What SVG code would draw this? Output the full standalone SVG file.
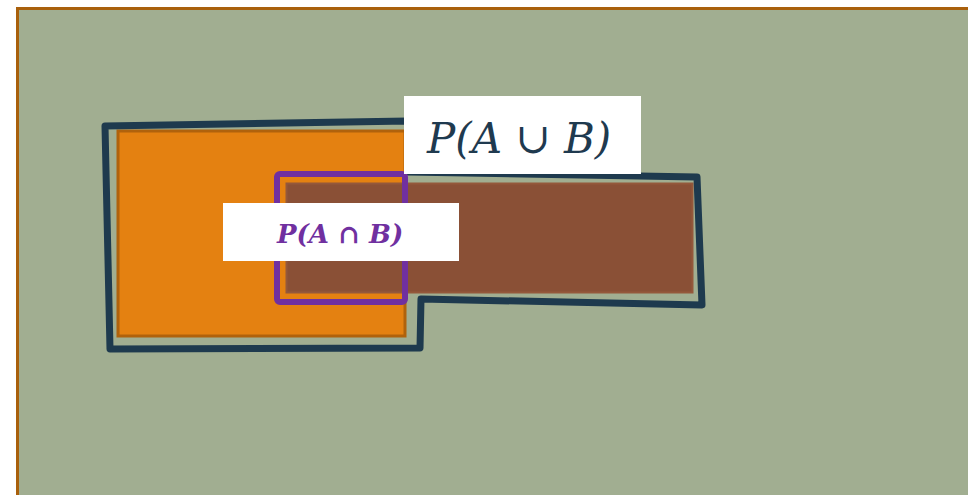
<svg xmlns="http://www.w3.org/2000/svg" width="968" height="495" viewBox="0 0 968 495">
  <style>
    .math { font-family: "DejaVu Serif", "Liberation Serif", serif; font-style: italic; }
    .op { font-style: normal; }
    .label-box { fill: #ffffff; }
  </style>
  <rect width="968" height="495" fill="#ffffff"/>
  <!-- universe -->
  <g id="universe">
    <rect x="17.5" y="8.5" width="960" height="500" fill="#a1ae91" stroke="#a9600c" stroke-width="3"/>
  </g>
  <!-- event A -->
  <g id="event-a">
    <rect x="118" y="131" width="287" height="205" fill="#e48111" stroke="#b0620c" stroke-width="3"/>
  </g>
  <!-- event B -->
  <g id="event-b">
    <rect x="286.5" y="183.5" width="406" height="109" fill="#8a5036" stroke="#94583b" stroke-width="2"/>
  </g>
  <!-- union outline -->
  <g id="union">
    <polygon points="105,126 408,121 408,172 697,177 702,305 421,299 420,348 110,349" fill="none" stroke="#1e3a4e" stroke-width="7" stroke-linejoin="round"/>
  </g>
  <!-- intersection outline -->
  <g id="intersection">
    <rect x="277" y="174" width="128" height="128" rx="3" fill="none" stroke="#7030a0" stroke-width="6"/>
  </g>
  <!-- labels -->
  <g id="label-union">
    <rect class="label-box" x="404" y="96" width="237" height="78"/>
    <text class="math" x="427" y="153" font-size="42" fill="#1f3a4f">P(A<tspan class="op"> ∪ </tspan>B)</text>
  </g>
  <g id="label-intersection">
    <rect class="label-box" x="223" y="203" width="236" height="58"/>
    <text class="math" x="277" y="243" font-size="26" font-weight="bold" fill="#7030a0">P(A<tspan class="op"> ∩ </tspan>B)</text>
  </g>
</svg>
